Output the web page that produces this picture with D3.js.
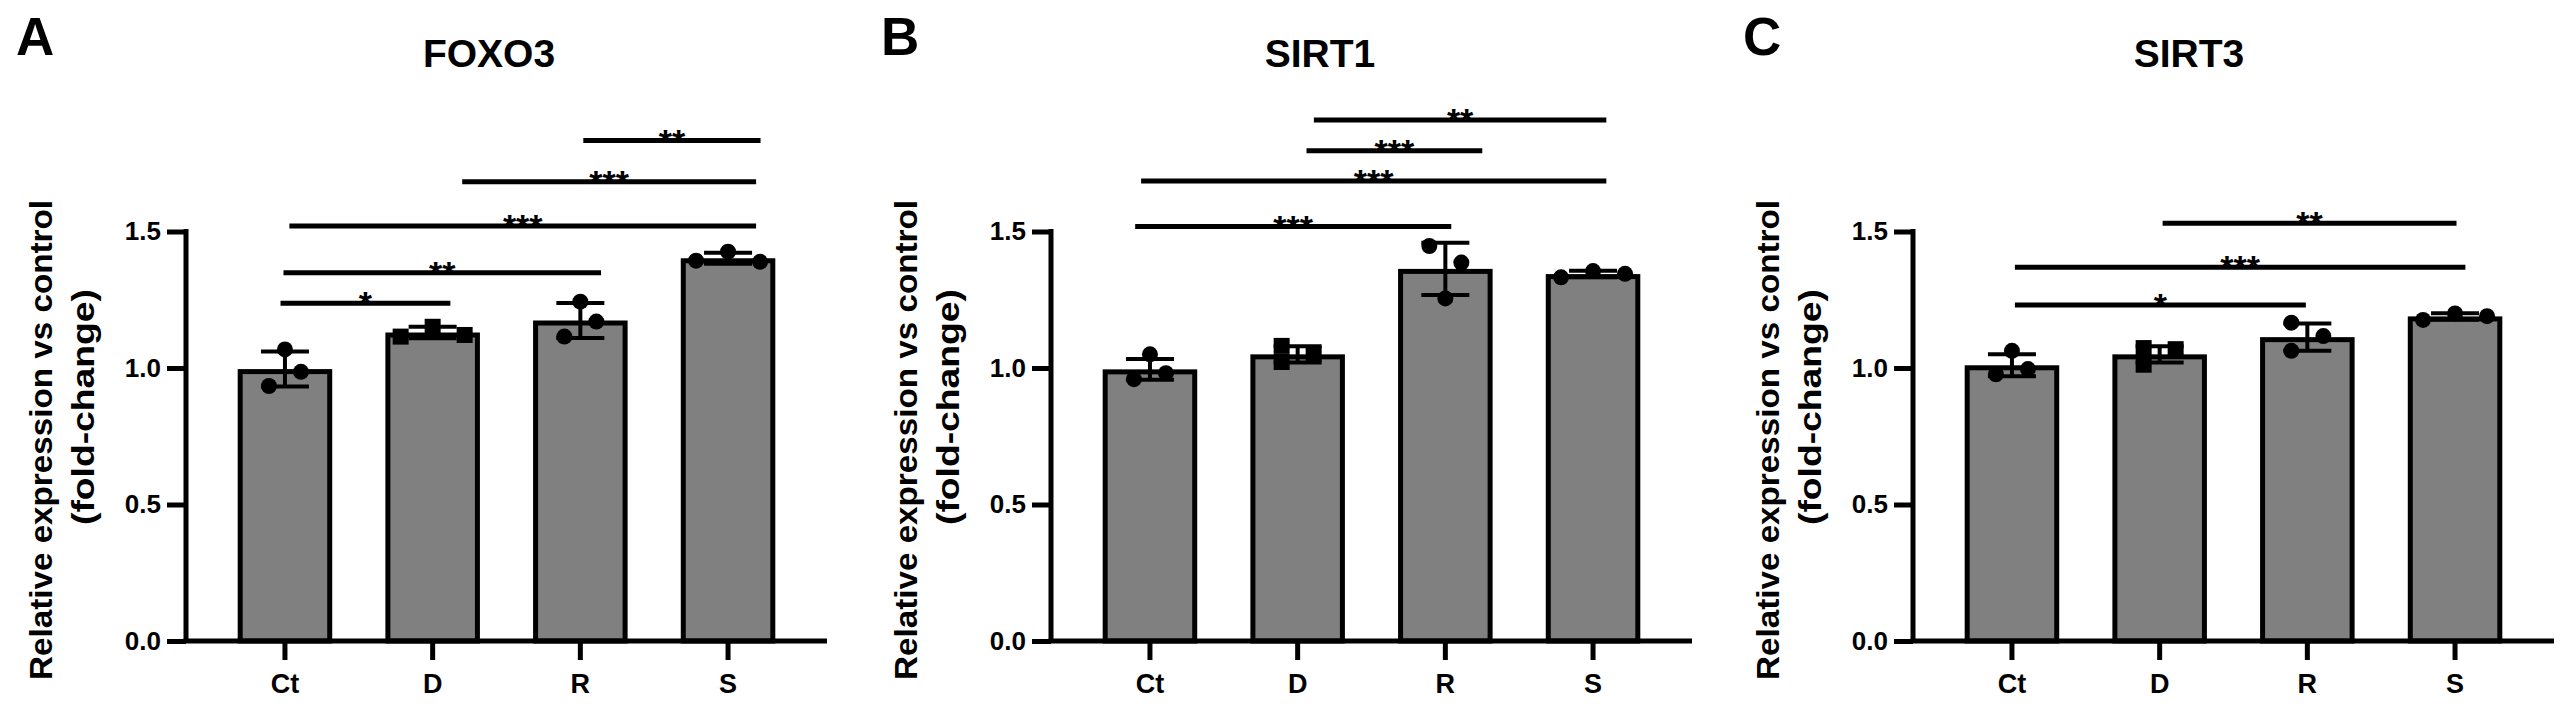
<!DOCTYPE html>
<html>
<head>
<meta charset="utf-8">
<script src="https://cdn.jsdelivr.net/npm/d3@7"></script>
<style>
  body { margin: 0; background: #fff; }
  svg { display: block; font-family: "Liberation Sans", Arial, sans-serif; font-weight: bold; }
</style>
</head>
<body>
<svg id="chart" width="2574" height="710"></svg>
<script>
// categories and ticks
var groups = ["Ct", "D", "R", "S"];
var yTicks = [0, 0.5, 1.0, 1.5];
var panelLetters = ["A", "B", "C"];
var genes = ["FOXO3", "SIRT1", "SIRT3"];
var markers = ["circle", "square", "circle", "circle"];

// FOXO3
var foxo3Means = [0.996, 1.130, 1.174, 1.402];
var foxo3Sd = [0.064, 0.021, 0.064, 0.020];
var foxo3Points = [[1.068, 0.986, 0.934], [1.151, 1.115, 1.121], [1.243, 1.170, 1.115], [1.393, 1.426, 1.389]];
var foxo3Slots = [[0, 1, -1], [0, -2, 2], [0, 1, -1], [-2, 0, 2]];
var foxo3Brackets = [
    {a: -0.03, b: 1.12, v: 1.237, t: "*"},
    {a: -0.01, b: 2.14, v: 1.349, t: "**"},
    {a: 0.03, b: 3.19, v: 1.520, t: "***"},
    {a: 1.20, b: 3.19, v: 1.682, t: "***"},
    {a: 2.02, b: 3.22, v: 1.833, t: "**"}
];

// SIRT1
var sirt1Means = [0.995, 1.050, 1.363, 1.344];
var sirt1Sd = [0.038, 0.030, 0.096, 0.012];
var sirt1Points = [[1.050, 0.981, 0.959], [1.081, 1.022, 1.051], [1.447, 1.386, 1.255], [1.332, 1.355, 1.345]];
var sirt1Slots = [[0, 1, -1], [-1, -1, 1], [-1, 1, 0], [-2, 0, 2]];
var sirt1Brackets = [
    {a: -0.10, b: 2.04, v: 1.518, t: "***"},
    {a: -0.06, b: 3.09, v: 1.685, t: "***"},
    {a: 1.06, b: 2.25, v: 1.796, t: "***"},
    {a: 1.11, b: 3.09, v: 1.908, t: "**"}
];

// SIRT3
var sirt3Means = [1.010, 1.050, 1.113, 1.189];
var sirt3Sd = [0.040, 0.030, 0.050, 0.012];
var sirt3Points = [[1.063, 0.996, 0.977], [1.073, 1.012, 1.069], [1.166, 1.117, 1.063], [1.176, 1.200, 1.190]];
var sirt3Slots = [[0, 1, -1], [-1, -1, 1], [-1, 1, -1], [-2, 0, 2]];
var sirt3Brackets = [
    {a: 0.02, b: 1.99, v: 1.231, t: "*"},
    {a: 0.02, b: 3.07, v: 1.369, t: "***"},
    {a: 1.02, b: 3.01, v: 1.530, t: "**"}
];

var panels = [
    {means: foxo3Means, sd: foxo3Sd, points: foxo3Points, slots: foxo3Slots, brackets: foxo3Brackets},
    {means: sirt1Means, sd: sirt1Sd, points: sirt1Points, slots: sirt1Slots, brackets: sirt1Brackets},
    {means: sirt3Means, sd: sirt3Sd, points: sirt3Points, slots: sirt3Slots, brackets: sirt3Brackets}
];

// layout
var axisX = [186, 1051, 1913];
var titleDx = [303, 269, 276];
var plotW = 641;
var lw = 5;

var svg = d3.select("#chart");

var y = d3.scaleLinear()
    .domain([0, 1.5])
    .range([641, 231.5]);

panels.forEach(function(p, k) {
    var ax = axisX[k];
    var g = svg.append("g");

    var x = d3.scaleBand()
        .domain(groups)
        .range([ax, ax + plotW])
        .paddingInner(0.36)
        .paddingOuter(0.35);
    var bw = x.bandwidth();
    var cx = function(i) { return x(groups[i]) + bw / 2; };
    // fractional group index -> pixel, for the brackets
    var xi = d3.scaleLinear().domain([0, 3]).range([cx(0), cx(3)]);

    // bars
    g.selectAll("rect.bar")
        .data(p.means)
        .enter()
        .append("rect")
        .attr("class", "bar")
        .attr("x", function(d, i) { return x(groups[i]) + lw / 2; })
        .attr("width", bw - lw)
        .attr("y", function(d) { return y(d) + lw / 2; })
        .attr("height", function(d) { return y(0) - y(d) - lw / 2; })
        .attr("fill", "#808080")
        .attr("stroke", "#000")
        .attr("stroke-width", lw);

    // axes
    var yAxis = d3.axisLeft(y).tickValues(yTicks).tickFormat(d3.format(".1f")).tickSize(19).tickPadding(6);
    var ya = g.append("g")
        .attr("transform", "translate(" + ax + ",0)")
        .call(yAxis);
    ya.select(".domain").remove();
    ya.selectAll(".tick line").attr("stroke", "#000").attr("stroke-width", lw);
    ya.selectAll(".tick text")
        .attr("fill", "#000")
        .style("font-size", "26px")
        .style("font-weight", "bold")
        .style("font-family", "'Liberation Sans', Arial, sans-serif");

    var xAxis = d3.axisBottom(x).tickSize(19).tickPadding(14);
    var xa = g.append("g")
        .attr("transform", "translate(0," + y(0) + ")")
        .call(xAxis);
    xa.select(".domain").remove();
    xa.selectAll(".tick line").attr("stroke", "#000").attr("stroke-width", lw);
    xa.selectAll(".tick text")
        .attr("fill", "#000")
        .style("font-size", "27px")
        .style("font-weight", "bold")
        .style("font-family", "'Liberation Sans', Arial, sans-serif");

    g.append("line")
        .attr("x1", ax - lw / 2).attr("x2", ax + plotW)
        .attr("y1", y(0)).attr("y2", y(0))
        .attr("stroke", "#000").attr("stroke-width", lw);
    g.append("line")
        .attr("x1", ax).attr("x2", ax)
        .attr("y1", y(0)).attr("y2", y(1.5) - lw / 2)
        .attr("stroke", "#000").attr("stroke-width", lw);

    // error bars (mean +/- SD)
    var eb = g.selectAll("g.err")
        .data(p.means)
        .enter()
        .append("g")
        .attr("class", "err")
        .attr("stroke", "#000")
        .attr("stroke-width", 4);
    eb.append("line")
        .attr("x1", function(d, i) { return cx(i); })
        .attr("x2", function(d, i) { return cx(i); })
        .attr("y1", function(d, i) { return y(d - p.sd[i]); })
        .attr("y2", function(d, i) { return y(d + p.sd[i]); });
    eb.append("line")
        .attr("x1", function(d, i) { return cx(i) - 24; })
        .attr("x2", function(d, i) { return cx(i) + 24; })
        .attr("y1", function(d, i) { return y(d + p.sd[i]); })
        .attr("y2", function(d, i) { return y(d + p.sd[i]); });
    eb.append("line")
        .attr("x1", function(d, i) { return cx(i) - 24; })
        .attr("x2", function(d, i) { return cx(i) + 24; })
        .attr("y1", function(d, i) { return y(d - p.sd[i]); })
        .attr("y2", function(d, i) { return y(d - p.sd[i]); });

    // individual points
    var pts = [];
    p.points.forEach(function(arr, i) {
        arr.forEach(function(v, j) {
            pts.push({i: i, v: v, s: p.slots[i][j]});
        });
    });
    g.selectAll("path.pt")
        .data(pts)
        .enter()
        .append("path")
        .attr("class", "pt")
        .attr("d", function(d) {
            return markers[d.i] == "square"
                ? d3.symbol().type(d3.symbolSquare).size(256)()
                : d3.symbol().type(d3.symbolCircle).size(201)();
        })
        .attr("transform", function(d) { return "translate(" + (cx(d.i) + d.s * 16) + "," + y(d.v) + ")"; })
        .attr("fill", "#000");

    // significance brackets
    var br = g.selectAll("g.br")
        .data(p.brackets)
        .enter()
        .append("g")
        .attr("class", "br");
    br.append("line")
        .attr("x1", function(d) { return xi(d.a); })
        .attr("x2", function(d) { return xi(d.b); })
        .attr("y1", function(d) { return y(d.v); })
        .attr("y2", function(d) { return y(d.v); })
        .attr("stroke", "#000")
        .attr("stroke-width", lw);
    br.append("text")
        .attr("x", function(d) { return (xi(d.a) + xi(d.b)) / 2; })
        .attr("y", function(d) { return y(d.v) + 12; })
        .attr("text-anchor", "middle")
        .style("font-size", "34px")
        .text(function(d) { return d.t; });

    // titles and labels
    g.append("text")
        .attr("x", ax - 170)
        .attr("y", 55)
        .style("font-size", "53px")
        .text(panelLetters[k]);
    g.append("text")
        .attr("x", ax + titleDx[k])
        .attr("y", 67)
        .attr("text-anchor", "middle")
        .style("font-size", "39px")
        .text(genes[k]);
    g.append("text")
        .attr("transform", "translate(" + (ax - 134) + ",440) rotate(-90)")
        .attr("text-anchor", "middle")
        .attr("textLength", 480)
        .attr("lengthAdjust", "spacingAndGlyphs")
        .style("font-size", "32px")
        .text("Relative expression vs control");
    g.append("text")
        .attr("transform", "translate(" + (ax - 92) + ",407) rotate(-90)")
        .attr("text-anchor", "middle")
        .attr("textLength", 236)
        .attr("lengthAdjust", "spacingAndGlyphs")
        .style("font-size", "32px")
        .text("(fold-change)");
});
</script>
</body>
</html>
